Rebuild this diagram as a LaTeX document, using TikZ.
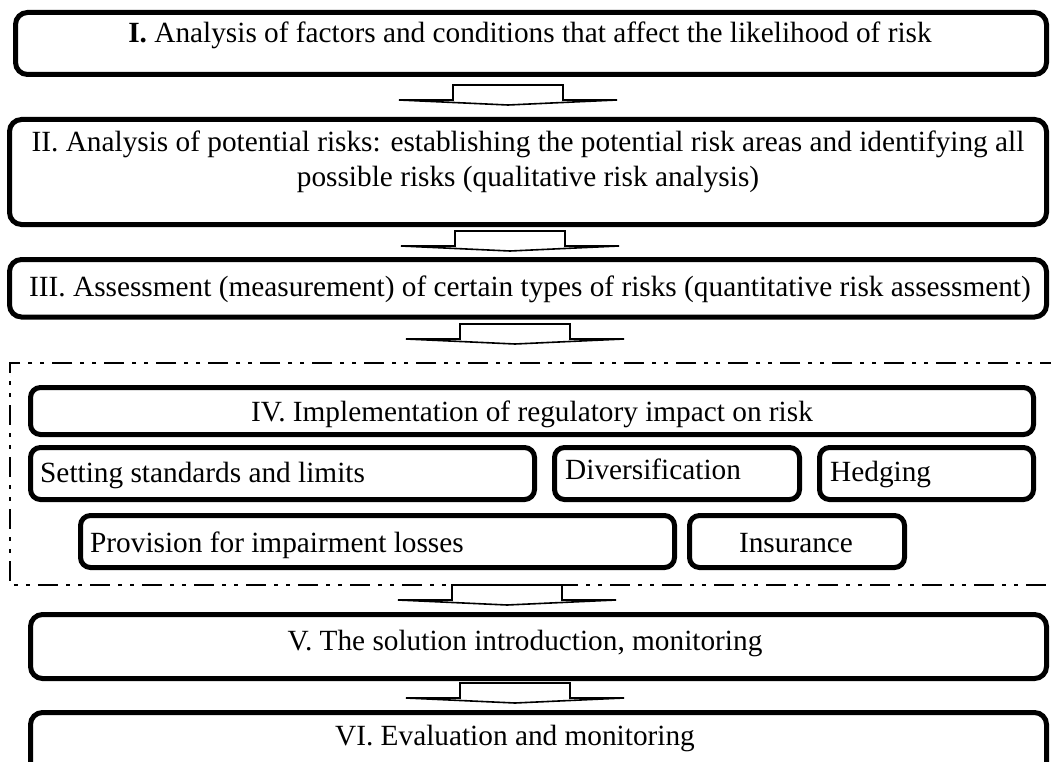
\documentclass[tikz,border=0pt]{standalone}
\usepackage{fontspec}
\setmainfont{Liberation Serif}
\begin{document}
\begin{tikzpicture}[x=1pt,y=-1pt,
  box/.style={draw, line width=5pt, rounded corners=12pt, inner sep=0pt, outer sep=0pt},
  lbl/.style={inner sep=0pt, font=\fontsize{29.3}{34}\selectfont},
  blockarr/.style={draw, line width=1.6pt, fill=white, line join=miter},
  frame/.style={line width=2.2pt, dash pattern=on 20pt off 8pt on 4pt off 8pt on 4pt off 8pt}]
\useasboundingbox (0,0) rectangle (1051,762);
\clip (0,0) rectangle (1051,762);
% boxes
\node[box, minimum width=1031pt, minimum height=62pt] (b1) at (531,43.5) {};
\node[box, minimum width=1037pt, minimum height=105pt] (b2) at (528,172) {};
\node[box, minimum width=1037pt, minimum height=57.5pt] (b3) at (528,288.25) {};
\node[box, rounded corners=10pt, minimum width=1003pt, minimum height=47pt] (b4) at (532,411) {};
\node[box, rounded corners=10pt, minimum width=504pt, minimum height=52pt] (bset) at (282.5,473.5) {};
\node[box, rounded corners=10pt, minimum width=245pt, minimum height=52pt] (bdiv) at (677,473.5) {};
\node[box, rounded corners=10pt, minimum width=214pt, minimum height=52pt] (bhed) at (926.5,473.5) {};
\node[box, rounded corners=10pt, minimum width=594pt, minimum height=52pt] (bpro) at (377.5,541.5) {};
\node[box, rounded corners=10pt, minimum width=215pt, minimum height=52pt] (bins) at (797,541.5) {};
\node[box, minimum width=1016pt, minimum height=64pt] (b5) at (538.5,646.5) {};
\node[box, minimum width=1016pt, minimum height=80pt] (b6) at (538.5,752.5) {};
% texts
\node[lbl, anchor=base] (t1) at (530,43) {\textbf{I.} Analysis of factors and conditions that affect the likelihood of risk};
\node[lbl, anchor=base] (t2a) at (528,152) {II. Analysis of potential risks: establishing the potential risk areas and identifying all};
\node[lbl, anchor=base] (t2b) at (528,186) {possible risks (qualitative risk analysis)};
\node[lbl, anchor=base] (t3) at (530,296) {III. Assessment (measurement) of certain types of risks (quantitative risk assessment)};
\node[lbl, anchor=base] (t4) at (532,421) {IV. Implementation of regulatory impact on risk};
\node[lbl, anchor=base west] (tset) at (40,482) {Setting standards and limits};
\node[lbl, anchor=base west] (tdiv) at (565,479) {Diversification};
\node[lbl, anchor=base west] (thed) at (830,481) {Hedging};
\node[lbl, anchor=base west] (tpro) at (90,552) {Provision for impairment losses};
\node[lbl, anchor=base] (tins) at (796,552) {Insurance};
\node[lbl, anchor=base] (t5) at (525,650) {V. The solution introduction, monitoring};
\node[lbl, anchor=base] (t6) at (515,745) {VI. Evaluation and monitoring};
% dash-dot-dot frame round stage IV
\coordinate (fTR) at (1060,363);
\coordinate (fTL) at (10,363);
\coordinate (fBL) at (10,585);
\coordinate (fBR) at (1060,585);
\draw[frame] (fTR) -- (fTL) -- (fBL) -- (fBR);
% block arrows (named at the shaft top centre)
\coordinate (a1) at (508,85);
\coordinate (a2) at (510,231);
\coordinate (a3) at (515,324);
\coordinate (a4) at (507,585);
\coordinate (a5) at (515,683);
\foreach \a in {a1,a2,a3,a4,a5}{
  \draw[blockarr] (\a) ++(-55,0) -- ++(110,0) -- ++(0,15) -- ++(54,0) -- ++(-109,5) -- ++(-109,-5) -- ++(54,0) -- cycle;
}
\end{tikzpicture}
\end{document}
